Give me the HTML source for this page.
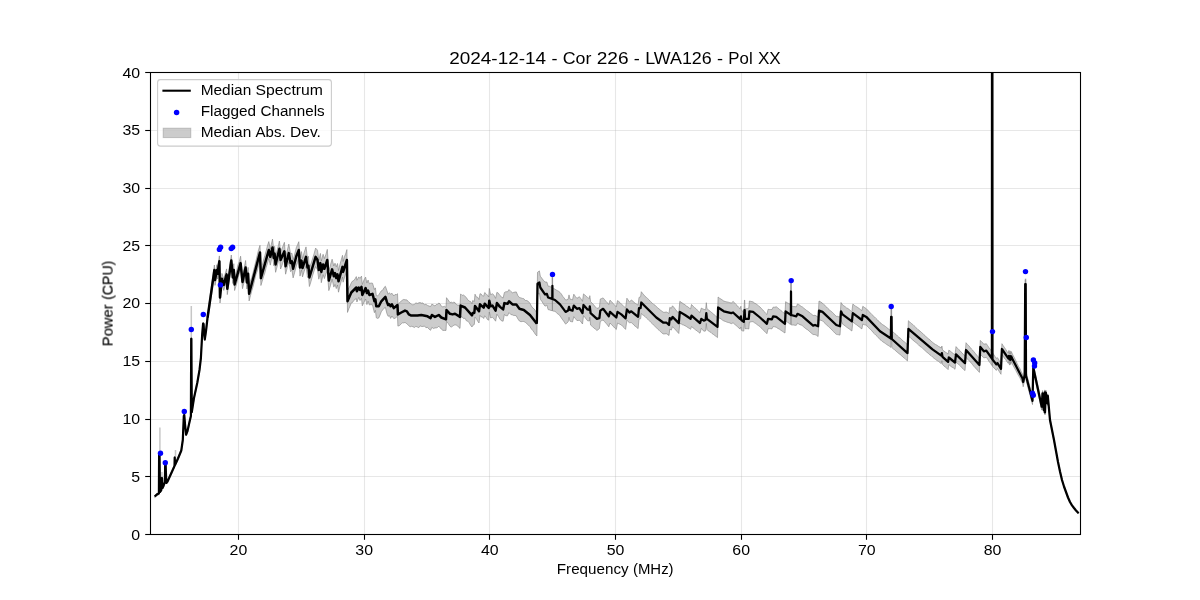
<!DOCTYPE html>
<html lang="en"><head><meta charset="utf-8"><title>Median Spectrum</title>
<style>html,body{margin:0;padding:0;background:#fff}body{width:1200px;height:600px;overflow:hidden;font-family:"Liberation Sans",sans-serif}</style></head>
<body>
<svg width="1200" height="600" viewBox="0 0 1200 600" style="display:block;font-family:'Liberation Sans',sans-serif">
<rect width="1200" height="600" fill="#ffffff"/>
<defs><clipPath id="ax"><rect x="150.5" y="72.5" width="930.0" height="462.0"/></clipPath></defs>
<g stroke="#b0b0b0" stroke-opacity="0.3" stroke-width="1.05">
<line x1="238.50" y1="72.5" x2="238.50" y2="534.5"/>
<line x1="364.50" y1="72.5" x2="364.50" y2="534.5"/>
<line x1="489.50" y1="72.5" x2="489.50" y2="534.5"/>
<line x1="615.50" y1="72.5" x2="615.50" y2="534.5"/>
<line x1="741.50" y1="72.5" x2="741.50" y2="534.5"/>
<line x1="866.50" y1="72.5" x2="866.50" y2="534.5"/>
<line x1="992.50" y1="72.5" x2="992.50" y2="534.5"/>
<line x1="150.5" y1="534.50" x2="1080.5" y2="534.50"/>
<line x1="150.5" y1="476.50" x2="1080.5" y2="476.50"/>
<line x1="150.5" y1="419.50" x2="1080.5" y2="419.50"/>
<line x1="150.5" y1="361.50" x2="1080.5" y2="361.50"/>
<line x1="150.5" y1="303.50" x2="1080.5" y2="303.50"/>
<line x1="150.5" y1="245.50" x2="1080.5" y2="245.50"/>
<line x1="150.5" y1="188.50" x2="1080.5" y2="188.50"/>
<line x1="150.5" y1="130.50" x2="1080.5" y2="130.50"/>
<line x1="150.5" y1="72.50" x2="1080.5" y2="72.50"/>
</g>
<g clip-path="url(#ax)">
<polygon points="154.7,495.4 156.0,494.2 157.3,493.2 158.9,492.4 159.1,452.4 159.5,452.5 159.9,490.9 161.3,488.9 161.7,476.9 162.0,476.8 162.5,486.9 163.5,484.8 164.9,480.8 165.2,461.9 165.6,461.9 166.3,481.9 167.5,480.4 168.8,477.5 170.0,474.7 171.2,472.0 172.5,469.3 174.5,464.7 174.7,456.2 175.0,463.8 176.5,460.8 178.0,457.3 179.7,453.2 181.3,449.2 182.8,438.8 183.8,414.7 184.3,413.7 185.0,422.7 186.1,433.3 187.5,429.7 189.5,420.6 190.9,414.6 191.2,337.5 191.4,337.4 191.8,410.6 192.9,403.6 194.0,396.6 195.7,388.9 197.3,381.2 198.4,374.7 199.5,368.5 200.9,356.5 202.2,332.5 203.1,322.1 203.6,322.6 204.1,331.5 204.8,337.9 206.0,328.9 207.5,315.1 209.4,301.3 210.7,291.5 212.0,281.6 213.2,273.5 214.4,265.0 215.0,275.1 216.9,264.7 217.5,268.9 219.4,255.9 220.0,291.8 221.9,273.4 223.8,279.0 225.0,274.2 226.6,268.9 227.3,282.9 228.6,274.1 230.0,263.6 231.3,255.0 232.8,271.7 233.8,263.7 234.6,278.4 235.8,273.7 236.9,269.7 238.1,264.4 239.4,261.3 240.6,256.2 242.5,275.5 244.1,268.3 245.6,260.5 246.9,275.9 248.1,267.4 249.1,286.7 250.5,280.7 251.8,277.3 253.2,272.1 254.6,266.3 255.9,261.1 257.3,255.1 258.6,249.6 260.0,245.3 260.9,270.5 262.2,265.7 263.5,260.0 264.9,255.5 266.2,250.7 267.5,245.5 268.8,241.6 270.3,249.1 271.4,244.1 272.5,239.1 273.8,250.0 274.6,246.3 275.6,256.3 276.9,251.1 278.1,246.7 279.4,241.0 280.6,252.0 281.9,248.8 283.1,245.8 284.4,242.3 285.6,257.9 287.2,251.0 288.8,244.1 290.6,254.0 291.9,253.1 293.1,260.0 294.7,254.2 296.3,247.7 297.6,244.6 298.8,241.7 300.0,258.1 301.5,251.6 302.5,258.8 304.2,252.4 306.0,246.9 307.5,258.4 308.4,256.2 309.4,268.1 310.9,264.0 312.5,259.0 314.1,253.7 315.6,248.1 317.5,250.2 318.8,260.3 320.4,253.4 321.3,261.1 323.1,254.3 324.4,258.6 325.9,254.4 327.3,249.4 328.8,271.1 330.5,264.8 332.1,259.2 333.8,266.0 335.0,263.2 336.3,266.9 337.5,263.5 338.5,270.5 339.8,265.0 341.2,260.0 342.5,255.3 343.1,261.5 344.4,256.7 345.6,254.0 346.9,249.6 347.5,290.7 348.8,287.9 350.0,286.0 351.3,282.8 352.6,281.0 353.8,280.5 355.1,278.8 356.3,276.6 356.9,280.3 358.8,276.9 360.0,278.4 361.5,276.1 362.3,284.5 364.0,279.9 365.6,277.1 366.9,283.1 368.1,280.0 369.4,283.8 370.9,283.0 372.5,283.2 374.4,289.5 375.4,287.9 376.3,295.5 377.6,295.9 378.8,294.7 380.1,292.7 381.3,290.8 382.7,290.2 384.0,287.6 385.4,286.3 386.9,290.5 388.1,294.3 389.4,292.7 390.6,294.3 391.9,293.2 393.8,296.0 395.0,294.5 396.3,294.7 397.5,293.7 397.9,303.7 399.6,302.8 401.3,300.9 402.5,300.1 403.8,299.4 405.0,299.8 406.9,299.9 408.8,302.2 410.1,302.9 411.3,304.2 412.9,304.9 414.4,304.3 415.9,302.9 417.5,303.4 418.8,302.8 420.0,302.5 421.3,303.1 422.9,302.9 424.4,304.8 425.9,304.3 427.5,305.4 429.1,306.1 430.6,306.5 431.9,304.1 433.4,305.0 435.0,306.0 436.3,304.5 437.5,304.4 438.8,303.0 440.1,303.9 441.3,306.2 442.9,306.9 444.4,306.3 446.0,307.4 446.5,297.7 448.2,300.0 450.0,302.7 451.2,302.1 452.5,302.7 453.8,302.2 455.0,302.6 456.2,304.4 457.5,305.0 458.8,305.1 460.0,306.4 460.6,293.9 462.1,295.4 463.5,295.0 465.0,296.3 466.4,297.6 467.8,299.9 469.2,301.0 470.6,301.6 472.0,303.8 472.7,300.5 474.3,301.6 475.0,294.2 476.3,296.9 477.7,297.3 479.0,299.6 480.0,293.7 481.2,294.1 482.5,295.9 483.7,296.2 484.7,292.5 486.0,293.7 487.4,295.1 488.7,297.0 489.3,288.4 490.6,294.7 492.5,293.8 494.1,295.3 495.6,298.4 496.9,292.3 498.4,293.2 500.0,295.6 501.6,297.0 503.1,298.1 504.4,292.5 505.9,291.7 507.5,291.8 509.0,289.6 510.8,291.4 512.5,292.8 513.8,292.3 515.0,292.1 516.3,291.9 517.8,295.5 519.4,297.5 520.9,297.9 522.3,298.4 523.8,298.7 525.3,300.5 526.9,300.5 528.5,301.6 530.0,303.4 531.4,306.1 532.8,308.0 534.1,308.9 535.5,310.8 536.9,313.3 537.5,272.3 539.4,270.9 540.3,276.2 541.9,278.3 543.4,280.3 545.0,282.0 546.9,282.1 548.1,286.2 549.5,286.3 550.9,287.0 552.3,287.1 552.4,275.2 552.4,274.8 552.5,287.5 553.8,288.5 555.0,289.2 556.2,290.0 557.5,290.7 558.8,291.4 560.0,292.4 561.4,294.1 562.8,296.4 564.2,298.0 565.6,300.0 566.9,299.8 568.1,299.3 569.0,294.9 570.0,299.1 571.2,299.4 572.5,299.9 573.8,294.2 575.3,296.4 576.9,298.3 578.1,297.6 579.4,296.7 581.0,298.9 582.5,301.3 583.5,293.9 584.8,294.9 586.2,296.3 587.5,297.4 589.4,298.7 589.8,295.7 590.6,301.7 592.2,303.2 593.8,305.0 595.3,306.8 596.9,308.4 598.1,308.1 599.4,307.4 600.3,299.0 601.7,298.5 603.1,297.9 604.5,299.5 606.0,301.4 607.4,302.8 608.8,304.6 610.0,300.2 611.6,301.7 613.1,303.4 614.7,305.2 616.3,306.9 617.5,300.6 618.8,301.5 620.0,302.6 621.3,303.9 622.7,305.3 624.2,306.8 625.6,308.2 626.9,298.2 628.1,299.9 629.4,301.9 631.3,300.1 632.7,301.0 634.0,302.3 635.4,303.4 636.7,304.2 638.1,305.2 639.0,297.4 640.6,296.8 641.3,291.7 642.5,293.3 643.8,294.8 645.0,296.3 646.4,297.4 647.8,298.7 649.2,300.0 650.6,301.7 652.1,302.9 653.5,304.3 654.9,305.1 656.3,306.6 657.7,307.8 659.0,308.9 660.4,310.1 661.7,311.0 663.1,312.2 664.7,312.3 666.3,312.0 667.6,312.6 669.0,313.5 669.8,307.4 671.3,308.3 672.5,305.8 674.1,307.6 675.6,309.6 677.2,311.5 678.8,313.2 679.8,301.3 681.1,302.3 682.4,303.1 683.7,304.0 685.0,304.8 686.4,306.0 687.8,306.8 689.2,308.0 690.6,308.9 691.5,304.5 692.9,306.0 694.3,307.4 695.8,308.5 697.2,310.0 698.6,311.4 700.0,312.6 701.3,308.1 702.5,308.7 703.8,309.3 705.6,309.9 706.3,302.7 706.9,308.5 708.2,309.7 709.5,310.7 710.9,311.9 712.2,313.0 713.5,313.9 714.9,315.3 716.2,316.6 717.5,317.5 718.1,297.0 719.5,298.2 721.0,299.1 722.4,300.0 723.8,301.1 725.3,301.5 726.8,301.9 728.3,302.2 729.8,302.7 731.3,303.0 733.1,301.4 734.5,302.7 735.9,304.4 737.2,305.6 738.6,307.3 740.0,308.7 740.9,306.2 741.3,309.7 742.5,311.2 743.8,312.7 744.5,300.1 744.7,300.0 745.0,309.2 746.3,308.7 747.5,308.5 748.8,308.1 749.4,301.0 750.6,301.3 751.9,301.6 753.1,301.9 754.5,303.1 755.9,303.8 757.2,304.7 758.6,305.9 760.0,307.0 761.4,308.6 762.8,309.9 764.1,311.4 765.5,313.2 766.9,314.5 768.1,309.3 769.4,309.5 770.6,309.5 771.9,309.6 773.1,307.2 774.7,307.2 776.3,306.8 777.8,307.9 779.2,309.2 780.6,310.2 782.1,311.4 783.5,312.8 785.0,313.8 785.6,301.7 787.1,302.7 788.5,303.4 790.0,304.0 790.9,305.5 791.0,282.3 791.0,281.8 791.1,306.2 792.4,306.3 793.7,306.6 795.0,306.6 796.3,306.9 797.5,303.9 798.8,304.5 800.0,305.5 801.2,306.4 802.5,307.0 803.8,308.2 805.1,309.2 806.5,310.4 807.8,311.2 809.1,312.2 810.5,313.4 811.8,314.3 813.1,315.5 815.0,315.3 816.5,316.1 818.1,317.2 819.0,301.0 820.8,302.0 822.5,303.2 823.9,304.6 825.3,305.8 826.6,307.0 828.0,308.6 829.4,309.9 830.8,311.0 832.2,312.2 833.5,313.4 834.9,315.1 836.3,316.3 837.5,316.3 838.8,316.8 840.0,316.9 841.0,302.5 842.5,304.8 843.8,305.8 845.2,306.7 846.5,307.9 847.9,308.5 849.2,309.5 850.6,310.7 851.9,311.7 852.8,304.2 854.1,304.9 855.4,306.2 856.7,306.8 858.0,307.7 859.3,308.6 860.6,309.7 861.9,310.6 862.8,306.3 864.5,307.5 866.3,308.7 867.7,310.1 869.0,311.5 870.4,313.0 871.8,314.5 873.1,315.7 874.5,316.9 875.9,318.4 877.3,319.7 878.6,321.0 880.0,322.6 881.4,323.6 882.7,324.7 884.1,325.5 885.5,326.5 886.8,327.6 888.2,328.7 889.5,329.7 890.9,330.6 891.1,308.6 891.6,308.0 891.8,330.8 893.2,332.1 894.7,333.4 896.1,334.5 897.5,336.0 898.9,337.3 900.4,338.2 901.8,339.8 903.2,341.0 904.6,342.0 906.1,343.4 907.5,344.7 908.4,320.7 909.8,322.0 911.2,323.4 912.7,324.4 914.1,325.8 915.5,327.2 916.9,328.4 918.3,329.8 919.7,330.8 921.2,332.2 922.6,333.3 924.0,334.8 925.4,336.1 926.8,337.3 928.2,338.6 929.7,339.6 931.1,341.2 932.5,342.3 934.0,343.5 935.4,344.4 936.9,345.2 938.4,346.3 939.8,347.0 941.3,348.1 941.9,346.0 942.5,349.8 943.9,351.0 945.3,352.1 946.7,352.9 948.1,354.1 948.8,350.2 950.3,351.1 951.9,352.5 953.5,353.7 955.0,354.8 956.0,346.6 957.5,348.3 959.0,349.8 960.5,351.2 962.0,353.1 963.5,354.4 965.0,356.2 966.0,342.7 967.3,344.4 968.7,345.6 970.0,347.2 971.4,349.0 972.7,350.2 974.0,351.8 975.4,353.5 976.7,355.1 978.1,356.7 979.4,358.1 980.3,340.4 982.0,342.3 983.8,344.0 985.0,344.1 986.3,343.7 987.7,345.7 989.1,347.9 990.5,349.5 991.9,351.7 992.0,52.7 992.4,53.4 992.5,352.7 993.7,354.5 995.0,356.5 996.3,358.3 997.5,357.7 999.2,360.5 1001.0,363.4 1001.9,343.7 1003.2,345.7 1004.5,347.6 1005.7,349.4 1007.0,351.5 1008.3,353.2 1008.9,350.4 1009.5,354.4 1010.1,350.9 1010.7,354.4 1011.3,351.5 1011.9,353.0 1013.2,355.6 1014.5,358.1 1015.9,360.8 1017.2,363.7 1018.5,366.4 1019.9,368.6 1021.2,371.6 1022.5,374.0 1023.2,377.8 1024.7,370.4 1025.2,279.5 1025.7,279.6 1026.0,371.1 1027.3,376.5 1028.6,381.5 1029.9,386.7 1031.2,391.6 1032.5,397.0 1033.3,363.7 1034.7,370.4 1036.1,377.0 1037.5,383.7 1038.9,390.0 1040.3,397.2 1041.7,403.5 1042.5,390.6 1043.7,407.2 1044.7,389.9 1045.0,410.0 1045.8,390.0 1047.5,401.3 1047.8,393.9 1048.9,406.2 1050.0,418.5 1052.0,428.8 1054.0,438.9 1056.0,450.0 1058.0,461.3 1060.0,470.9 1062.0,479.4 1064.0,486.0 1066.0,491.5 1068.0,497.0 1070.0,501.6 1072.0,504.9 1074.0,507.6 1076.0,510.1 1077.3,511.5 1078.6,513.0 1078.6,513.6 1077.3,512.4 1076.0,510.9 1074.0,508.4 1072.0,505.7 1070.0,502.4 1068.0,498.0 1066.0,492.5 1064.0,487.0 1062.0,480.6 1060.0,472.1 1058.0,462.7 1056.0,451.9 1054.0,441.2 1052.0,431.3 1050.0,421.5 1048.9,409.7 1047.8,397.9 1047.5,405.4 1045.8,394.7 1045.0,415.0 1044.7,395.1 1043.7,412.6 1042.5,396.3 1041.7,410.1 1040.3,403.8 1038.9,397.1 1037.5,390.6 1036.1,384.5 1034.7,377.8 1033.3,371.4 1032.5,404.6 1031.2,399.9 1029.9,394.8 1028.6,390.0 1027.3,385.0 1026.0,380.2 1025.7,288.2 1025.2,288.1 1024.7,379.6 1023.2,386.8 1022.5,383.0 1021.2,380.6 1019.9,377.8 1018.5,375.6 1017.2,373.2 1015.9,370.6 1014.5,368.1 1013.2,365.7 1011.9,363.1 1011.3,361.5 1010.7,364.6 1010.1,361.1 1009.5,365.1 1008.9,361.4 1008.3,363.4 1007.0,361.8 1005.7,359.6 1004.5,358.4 1003.2,356.2 1001.9,354.6 1001.0,374.3 999.2,371.5 997.5,368.5 996.3,370.4 995.0,368.9 993.7,367.7 992.5,366.6 992.4,66.7 992.0,66.7 991.9,365.5 990.5,363.3 989.1,361.6 987.7,359.2 986.3,357.3 985.0,357.7 983.8,357.8 982.0,356.1 980.3,354.2 979.4,372.4 978.1,370.7 976.7,369.5 975.4,367.9 974.0,366.5 972.7,364.8 971.4,363.2 970.0,361.7 968.7,360.3 967.3,358.9 966.0,357.2 965.0,370.6 963.5,369.3 962.0,367.9 960.5,366.1 959.0,364.7 957.5,363.6 956.0,362.0 955.0,369.3 953.5,367.9 951.9,367.1 950.3,365.9 948.8,364.5 948.1,369.6 946.7,368.1 945.3,367.1 943.9,365.9 942.5,364.4 941.9,360.6 941.3,363.6 939.8,362.6 938.4,361.3 936.9,360.5 935.4,359.3 934.0,358.3 932.5,357.0 931.1,355.6 929.7,354.8 928.2,353.2 926.8,352.2 925.4,350.9 924.0,349.6 922.6,348.3 921.2,347.1 919.7,346.2 918.3,344.6 916.9,343.3 915.5,342.3 914.1,341.1 912.7,339.9 911.2,338.6 909.8,337.2 908.4,336.1 907.5,360.9 906.1,359.8 904.6,358.3 903.2,357.3 901.8,355.9 900.4,354.7 898.9,353.6 897.5,352.4 896.1,351.2 894.7,349.8 893.2,348.8 891.8,347.5 891.6,325.0 891.1,325.5 890.9,347.4 889.5,346.3 888.2,345.4 886.8,344.6 885.5,343.6 884.1,342.6 882.7,341.8 881.4,340.5 880.0,339.6 878.6,337.9 877.3,336.5 875.9,335.2 874.5,333.8 873.1,332.5 871.8,330.7 870.4,329.4 869.0,328.1 867.7,326.8 866.3,325.1 864.5,324.8 862.8,324.0 861.9,328.9 860.6,328.0 859.3,326.9 858.0,326.0 856.7,324.9 855.4,324.1 854.1,323.0 852.8,321.9 851.9,331.0 850.6,330.1 849.2,328.9 847.9,328.0 846.5,327.1 845.2,326.0 843.8,324.9 842.5,324.1 841.0,319.9 840.0,335.1 838.8,334.8 837.5,334.6 836.3,334.3 834.9,333.1 833.5,331.6 832.2,330.2 830.8,328.7 829.4,327.5 828.0,326.1 826.6,324.9 825.3,323.7 823.9,322.3 822.5,320.8 820.8,320.3 819.0,319.9 818.1,336.5 816.5,335.3 815.0,334.6 813.1,334.5 811.8,333.5 810.5,332.4 809.1,331.1 807.8,329.9 806.5,329.2 805.1,328.1 803.8,327.0 802.5,325.8 801.2,325.0 800.0,324.7 798.8,324.0 797.5,323.2 796.3,325.3 795.0,325.3 793.7,325.0 792.4,325.0 791.1,324.9 791.0,301.9 791.0,301.0 790.9,324.3 790.0,324.1 788.5,323.1 787.1,321.7 785.6,320.5 785.0,333.0 783.5,332.1 782.1,331.0 780.6,330.1 779.2,329.0 777.8,328.4 776.3,327.3 774.7,326.8 773.1,326.6 771.9,328.9 770.6,328.7 769.4,328.7 768.1,328.7 766.9,333.7 765.5,332.3 764.1,330.9 762.8,329.6 761.4,328.2 760.0,326.6 758.6,325.7 757.2,324.7 755.9,323.6 754.5,322.8 753.1,321.7 751.9,321.6 750.6,322.0 749.4,322.1 748.8,329.0 747.5,328.7 746.3,328.7 745.0,328.7 744.7,320.4 744.5,319.8 743.8,331.1 742.5,330.9 741.3,330.2 740.9,327.0 740.0,328.9 738.6,327.9 737.2,326.3 735.9,325.3 734.5,324.2 733.1,322.8 731.3,323.7 729.8,322.9 728.3,322.5 726.8,322.1 725.3,321.4 723.8,320.9 722.4,320.1 721.0,318.8 719.5,318.2 718.1,317.1 717.5,337.6 716.2,336.5 714.9,335.6 713.5,334.5 712.2,333.7 710.9,332.4 709.5,331.6 708.2,330.8 706.9,329.5 706.3,323.4 705.6,331.0 703.8,331.2 702.5,329.7 701.3,328.4 700.0,333.2 698.6,332.3 697.2,330.9 695.8,330.1 694.3,328.8 692.9,327.7 691.5,326.6 690.6,329.3 689.2,328.3 687.8,327.5 686.4,326.5 685.0,325.7 683.7,325.1 682.4,324.7 681.1,323.8 679.8,323.3 678.8,333.5 677.2,331.7 675.6,329.9 674.1,328.3 672.5,326.7 671.3,330.1 669.8,329.0 669.0,335.5 667.6,334.5 666.3,333.7 664.7,333.9 663.1,333.9 661.7,332.7 660.4,331.6 659.0,330.2 657.7,328.9 656.3,327.7 654.9,326.3 653.5,325.1 652.1,323.4 650.6,322.1 649.2,320.6 647.8,319.2 646.4,318.0 645.0,316.5 643.8,315.6 642.5,314.7 641.3,313.5 640.6,318.8 639.0,318.8 638.1,328.6 636.7,327.4 635.4,326.4 634.0,325.2 632.7,323.7 631.3,322.6 629.4,322.7 628.1,321.6 626.9,320.1 625.6,329.4 624.2,327.8 622.7,326.4 621.3,324.9 620.0,324.3 618.8,323.7 617.5,323.1 616.3,329.5 614.7,328.0 613.1,326.2 611.6,324.7 610.0,323.0 608.8,326.8 607.4,324.9 606.0,323.3 604.5,321.6 603.1,320.0 601.7,320.6 600.3,321.5 599.4,328.6 598.1,329.7 596.9,330.5 595.3,329.0 593.8,328.0 592.2,326.3 590.6,325.1 589.8,317.2 589.4,321.0 587.5,320.7 586.2,319.1 584.8,317.2 583.5,315.6 582.5,324.0 581.0,321.9 579.4,320.2 578.1,320.5 576.9,320.5 575.3,318.5 573.8,316.6 572.5,322.0 571.2,321.6 570.0,321.2 569.0,317.3 568.1,321.9 566.9,323.1 565.6,324.1 564.2,321.9 562.8,320.0 561.4,318.0 560.0,315.9 558.8,314.5 557.5,313.8 556.2,312.3 555.0,311.3 553.8,311.2 552.5,310.8 552.4,296.7 552.4,296.3 552.3,310.7 550.9,310.4 549.5,309.9 548.1,309.6 546.9,305.1 545.0,306.2 543.4,303.9 541.9,301.4 540.3,299.3 539.4,293.1 537.5,294.7 536.9,335.9 535.5,334.6 534.1,332.3 532.8,330.5 531.4,329.0 530.0,326.7 528.5,325.2 526.9,323.7 525.3,322.3 523.8,321.5 522.3,321.5 520.9,321.7 519.4,321.0 517.8,318.8 516.3,315.9 515.0,315.4 513.8,315.5 512.5,314.9 510.8,314.5 509.0,312.6 507.5,315.8 505.9,315.7 504.4,314.5 503.1,321.2 501.6,320.9 500.0,319.2 498.4,316.4 496.9,314.2 495.6,321.2 494.1,319.1 492.5,317.3 490.6,317.9 489.3,312.0 488.7,320.2 487.4,319.5 486.0,317.1 484.7,315.8 483.7,318.5 482.5,317.0 481.2,316.9 480.0,315.3 479.0,323.0 477.7,321.2 476.3,318.6 475.0,317.2 474.3,324.5 472.7,325.5 472.0,327.0 470.6,325.3 469.2,322.8 467.8,321.2 466.4,320.8 465.0,318.2 463.5,318.6 462.1,316.9 460.6,317.0 460.0,328.4 458.8,327.4 457.5,325.8 456.2,325.1 455.0,324.8 453.8,325.3 452.5,326.3 451.2,327.1 450.0,326.3 448.2,323.5 446.5,321.3 446.0,330.4 444.4,330.4 442.9,330.4 441.3,329.1 440.1,327.7 438.8,326.1 437.5,327.5 436.3,327.9 435.0,327.9 433.4,328.5 431.9,327.3 430.6,330.3 429.1,329.2 427.5,327.4 425.9,327.7 424.4,326.0 422.9,326.5 421.3,326.4 420.0,325.8 418.8,327.7 417.5,327.1 415.9,326.3 414.4,327.5 412.9,326.7 411.3,326.3 410.1,326.8 408.8,325.7 406.9,323.8 405.0,322.4 403.8,322.9 402.5,322.8 401.3,323.7 399.6,325.5 397.9,326.1 397.5,316.2 396.3,317.3 395.0,318.3 393.8,318.6 391.9,316.0 390.6,318.4 389.4,315.6 388.1,316.3 386.9,313.5 385.4,307.4 384.0,308.2 382.7,309.9 381.3,311.7 380.1,314.9 378.8,317.9 377.6,318.4 376.3,317.8 375.4,310.3 374.4,312.7 372.5,304.9 370.9,304.6 369.4,305.0 368.1,301.1 366.9,304.6 365.6,299.0 364.0,302.1 362.3,305.8 361.5,298.3 360.0,300.5 358.8,297.3 356.9,302.0 356.3,298.5 355.1,299.4 353.8,300.4 352.6,302.4 351.3,302.9 350.0,306.2 348.8,308.8 347.5,312.4 346.9,271.4 345.6,274.1 344.4,277.8 343.1,282.2 342.5,277.0 341.2,281.4 339.8,286.6 338.5,292.2 337.5,285.0 336.3,288.6 335.0,284.4 333.8,287.1 332.1,279.0 330.5,285.4 328.8,290.6 327.3,270.4 325.9,274.1 324.4,278.6 323.1,274.6 321.3,282.7 320.4,272.9 318.8,279.2 317.5,269.8 315.6,266.5 314.1,270.9 312.5,275.9 310.9,281.8 309.4,286.5 308.4,275.5 307.5,277.5 306.0,265.8 304.2,271.3 302.5,276.9 301.5,269.8 300.0,276.1 298.8,258.7 297.6,262.5 296.3,265.9 294.7,272.3 293.1,277.9 291.9,269.6 290.6,271.7 288.8,261.6 287.2,267.8 285.6,274.2 284.4,259.8 283.1,262.1 281.9,265.6 280.6,269.0 279.4,257.1 278.1,262.4 276.9,267.4 275.6,272.3 274.6,262.0 273.8,265.8 272.5,254.9 271.4,259.8 270.3,265.1 268.8,258.3 267.5,263.3 266.2,267.2 264.9,272.8 263.5,276.7 262.2,281.3 260.9,285.5 260.0,260.1 258.6,265.3 257.3,270.8 255.9,274.6 254.6,280.2 253.2,286.0 251.8,290.7 250.5,295.6 249.1,300.9 248.1,280.2 246.9,289.0 245.6,274.7 244.1,282.0 242.5,288.7 240.6,269.5 239.4,273.2 238.1,277.6 236.9,282.9 235.8,286.6 234.6,290.5 233.8,275.6 232.8,283.5 231.3,266.9 230.0,275.6 228.6,285.3 227.3,294.6 226.6,280.3 225.0,286.0 223.8,290.4 221.9,283.9 220.0,303.0 219.4,266.8 217.5,279.0 216.9,275.5 215.0,285.4 214.4,274.8 213.2,282.7 212.0,291.8 210.7,300.1 209.4,308.8 207.5,320.7 206.0,333.0 204.8,340.9 204.1,334.5 203.6,325.4 203.1,325.0 202.2,335.5 200.9,359.4 199.5,371.5 198.4,377.9 197.3,384.2 195.7,391.8 194.0,399.4 192.9,406.4 191.8,413.3 191.4,340.2 191.2,340.1 190.9,417.3 189.5,423.5 187.5,432.4 186.1,436.0 185.0,425.3 184.3,416.3 183.8,417.2 182.8,441.3 181.3,451.9 179.7,455.6 178.0,459.8 176.5,463.2 175.0,466.2 174.7,458.7 174.5,467.2 172.5,471.6 171.2,474.7 170.0,477.2 168.8,480.2 167.5,482.8 166.3,484.1 165.6,464.1 165.2,464.2 164.9,483.1 163.5,487.1 162.5,489.2 162.0,479.2 161.7,479.1 161.3,491.1 159.9,493.1 159.5,454.5 159.1,454.6 158.9,494.7 157.3,495.3 156.0,496.4 154.7,497.6" fill="#808080" fill-opacity="0.4" stroke="#808080" stroke-opacity="0.6" stroke-width="1.0" stroke-linejoin="round"/>
<g stroke="#808080" stroke-opacity="0.45" stroke-width="1.5">
<line x1="159.9" y1="427.5" x2="159.9" y2="492.0"/>
<line x1="161.9" y1="472.0" x2="161.9" y2="478.0"/>
<line x1="175.5" y1="450.0" x2="175.5" y2="463.9"/>
<line x1="191.3" y1="306.0" x2="191.3" y2="338.8"/>
<line x1="552.4" y1="274.4" x2="552.4" y2="285.8"/>
<line x1="791.1" y1="280.6" x2="791.1" y2="315.0"/>
<line x1="891.3" y1="306.5" x2="891.3" y2="316.9"/>
<line x1="1025.6" y1="278.5" x2="1025.6" y2="284.0"/>
</g>
<polyline points="154.7,496.5 156.0,495.3 157.3,494.2 158.9,493.5 159.1,453.5 159.5,453.5 159.9,492.0 161.3,490.0 161.7,478.0 162.0,478.0 162.5,488.0 163.5,486.0 164.9,482.0 165.2,463.0 165.6,463.0 166.3,483.0 167.5,481.5 170.0,476.0 172.5,470.5 174.5,466.0 174.7,457.5 175.0,465.0 178.0,458.5 181.3,450.5 182.8,440.0 183.8,416.0 184.3,415.0 185.0,424.0 186.1,434.7 187.5,431.0 189.5,422.0 190.9,416.0 191.2,338.8 191.4,338.8 191.8,412.0 194.0,398.0 197.3,382.7 199.5,370.0 200.9,358.0 202.2,334.0 203.1,323.5 203.6,324.0 204.1,333.0 204.8,339.3 206.0,331.0 207.5,318.0" fill="none" stroke="#000" stroke-linejoin="round" stroke-linecap="butt" stroke-width="2.2"/>
<polyline points="207.5,318.0 209.4,305.0 212.0,287.0 214.4,270.0 215.0,280.0 216.9,270.0 217.5,273.8 219.4,261.3 220.0,297.5 221.9,278.8 223.8,285.0 225.0,280.0 226.6,274.4 227.3,288.8 231.3,260.6 232.8,277.5 233.8,270.0 234.6,284.4 236.9,276.3 240.6,263.1 242.5,281.9 245.6,267.5 246.9,282.5 248.1,273.8 249.1,293.8 260.0,252.5 260.9,278.1 268.8,250.0 270.3,256.9 272.5,247.5 273.8,258.1 274.6,253.8 275.6,264.4 279.4,248.8 280.6,260.0 284.4,251.3 285.6,266.3 288.8,253.1 290.6,263.1 291.9,261.3 293.1,268.8 296.3,256.3 298.8,250.0 300.0,267.5 301.5,260.6 302.5,268.1 306.0,256.9 307.5,267.5 308.4,265.6 309.4,277.5 315.6,256.9 317.5,260.0 318.8,270.0 320.4,263.1 321.3,271.9 323.1,264.4 324.4,268.8 327.3,260.0 328.8,280.6 332.1,269.4 333.8,276.3 335.0,273.1 336.3,278.1 337.5,274.4 338.5,281.3 342.5,266.9 343.1,271.9 346.9,260.0 347.5,301.3 351.3,292.5 356.3,287.5 356.9,291.3 358.8,287.5 360.0,290.0 361.5,286.9 362.3,295.0 365.6,288.1 366.9,293.1 368.1,290.6 369.4,295.0 372.5,293.8 374.4,301.3 375.4,299.4 376.3,306.3 378.8,306.3 381.3,301.3 385.4,296.9 386.9,301.9 388.1,305.0 389.4,304.4 390.6,306.3 391.9,304.4 393.8,308.1 397.5,305.0 397.9,314.4 401.3,312.5 405.0,310.6 406.9,311.3 408.8,314.4 411.3,315.6 417.5,315.6 421.3,315.0 427.5,316.3 430.6,318.1 431.9,315.0 435.0,316.9 438.8,315.0 441.3,317.5 446.0,319.4 446.5,310.0 450.0,313.8 452.5,314.4 455.0,313.8 460.0,316.9 460.6,305.6 465.0,307.5 472.0,315.3 472.7,313.0 474.3,313.0 475.0,306.0 479.0,311.3 480.0,304.3 483.7,307.7 484.7,303.7 488.7,308.0 489.3,300.7 490.6,306.3 492.5,305.6 495.6,310.6 496.9,303.1 500.0,306.9 503.1,309.4 504.4,303.1 507.5,303.8 509.0,301.3 512.5,304.4 516.3,304.4 519.4,308.8 523.8,310.0 530.0,315.0 536.9,323.8" fill="none" stroke="#000" stroke-linejoin="round" stroke-linecap="butt" stroke-width="2.5"/>
<polyline points="536.9,323.8 537.5,283.8 539.4,282.5 540.3,287.5 545.0,294.4 546.9,293.8 548.1,297.5 552.3,298.9 552.4,285.8 552.4,285.8 552.5,299.0 555.0,300.0 560.0,304.4 565.6,311.9 568.1,310.6 569.0,306.9 570.0,310.0 572.5,310.6 573.8,305.6 576.9,308.8 579.4,308.1 582.5,313.1 583.5,305.0 587.5,309.4 589.4,310.0 589.8,306.3 590.6,313.1 596.9,318.8 599.4,318.1 600.3,310.6 603.1,308.8 608.8,316.3 610.0,311.9 616.3,317.5 617.5,311.9 621.3,314.4 625.6,318.4 626.9,309.4 629.4,312.5 631.3,311.3 638.1,316.9 639.0,308.1 640.6,308.1 641.3,302.5 645.0,306.3 656.3,317.5 663.1,322.5 666.3,322.5 669.0,325.0 669.8,318.1 671.3,319.4 672.5,316.9 678.8,323.1 679.8,311.9 685.0,315.0 690.6,318.8 691.5,315.6 700.0,323.1 701.3,318.8 703.8,320.6 705.6,320.0 706.3,313.1 706.9,318.8 717.5,326.9 718.1,307.5 723.8,311.3 731.3,313.1 733.1,312.5 740.0,318.8 740.9,316.3 741.3,320.0 743.8,321.9 744.5,310.0 744.7,310.0 745.0,318.8 748.8,318.8 749.4,311.3 753.1,311.9 760.0,317.5 766.9,323.8 768.1,318.8 771.9,319.4 773.1,316.3 776.3,316.9 785.0,323.8 785.6,311.3 790.0,314.4 790.9,315.0 791.0,291.5 791.0,291.5 791.1,315.0 796.3,316.3 797.5,313.8 802.5,316.3 813.1,325.6 815.0,325.0 818.1,326.3 819.0,310.6 822.5,311.9 836.3,325.0 840.0,326.3 841.0,311.3 842.5,314.4 851.9,321.3 852.8,313.1 861.9,320.0 862.8,315.0 866.3,316.9 880.0,331.3 890.9,338.5 891.1,316.9 891.6,316.9 891.8,339.0 907.5,353.1 908.4,328.8 932.5,349.4 941.3,355.6 941.9,353.1 942.5,356.9 948.1,361.9 948.8,357.5 955.0,362.5 956.0,354.4 965.0,363.1 966.0,350.0 979.4,365.0 980.3,346.9 983.8,351.3 986.3,350.6 991.9,358.5 992.0,60.0 992.4,60.0 992.5,359.5 996.3,364.4 997.5,363.1 1001.0,368.9 1001.9,349.0 1008.3,358.3 1008.9,356.0 1009.5,359.6 1010.1,356.2 1010.7,359.8 1011.3,356.3 1011.9,358.0 1022.5,378.5 1023.2,382.0 1024.7,375.0 1025.2,284.0 1025.7,284.0 1026.0,375.8 1032.5,400.8 1033.3,367.5 1041.7,406.7 1042.5,393.3 1043.7,410.0 1044.7,392.5 1045.0,412.5 1045.8,392.5 1047.5,403.3 1047.8,395.8 1050.0,420.0 1052.0,430.0 1054.0,440.0 1056.0,451.0 1058.0,462.0 1060.0,471.5 1062.0,480.0 1064.0,486.5 1066.0,492.0 1068.0,497.5 1070.0,502.0 1072.0,505.3 1074.0,508.0 1076.0,510.5 1078.6,513.3" fill="none" stroke="#000" stroke-linejoin="round" stroke-linecap="butt" stroke-width="2.25"/>
<g fill="#0000ff">
<circle cx="160.5" cy="453.3" r="2.7"/>
<circle cx="165.3" cy="462.7" r="2.7"/>
<circle cx="184.3" cy="411.5" r="2.7"/>
<circle cx="191.3" cy="329.5" r="2.7"/>
<circle cx="203.3" cy="314.5" r="2.7"/>
<circle cx="219.4" cy="249.4" r="2.7"/>
<circle cx="220.6" cy="247.2" r="2.7"/>
<circle cx="220.4" cy="284.9" r="2.7"/>
<circle cx="231.2" cy="248.6" r="2.7"/>
<circle cx="232.6" cy="247.3" r="2.7"/>
<circle cx="552.5" cy="274.4" r="2.7"/>
<circle cx="791.2" cy="280.6" r="2.7"/>
<circle cx="891.2" cy="306.5" r="2.7"/>
<circle cx="992.5" cy="331.6" r="2.7"/>
<circle cx="1025.5" cy="271.6" r="2.7"/>
<circle cx="1026.3" cy="337.5" r="2.7"/>
<circle cx="1033.4" cy="360.0" r="2.7"/>
<circle cx="1034.7" cy="363.0" r="2.7"/>
<circle cx="1034.5" cy="366.1" r="2.7"/>
<circle cx="1032.5" cy="393.3" r="2.7"/>
<circle cx="1033.3" cy="395.3" r="2.7"/>
</g>
</g>
<rect x="150.5" y="72.5" width="930.0" height="462.0" fill="none" stroke="#000" stroke-width="1.1"/>
<g stroke="#000" stroke-width="1.1">
<line x1="238.50" y1="534.5" x2="238.50" y2="539.8"/>
<line x1="364.50" y1="534.5" x2="364.50" y2="539.8"/>
<line x1="489.50" y1="534.5" x2="489.50" y2="539.8"/>
<line x1="615.50" y1="534.5" x2="615.50" y2="539.8"/>
<line x1="741.50" y1="534.5" x2="741.50" y2="539.8"/>
<line x1="866.50" y1="534.5" x2="866.50" y2="539.8"/>
<line x1="992.50" y1="534.5" x2="992.50" y2="539.8"/>
<line x1="145.2" y1="534.50" x2="150.5" y2="534.50"/>
<line x1="145.2" y1="476.50" x2="150.5" y2="476.50"/>
<line x1="145.2" y1="419.50" x2="150.5" y2="419.50"/>
<line x1="145.2" y1="361.50" x2="150.5" y2="361.50"/>
<line x1="145.2" y1="303.50" x2="150.5" y2="303.50"/>
<line x1="145.2" y1="245.50" x2="150.5" y2="245.50"/>
<line x1="145.2" y1="188.50" x2="150.5" y2="188.50"/>
<line x1="145.2" y1="130.50" x2="150.5" y2="130.50"/>
<line x1="145.2" y1="72.50" x2="150.5" y2="72.50"/>
</g>
<g style="filter:grayscale(1)">
<text x="229.64" y="555.30" font-size="13.89" textLength="17.68" lengthAdjust="spacingAndGlyphs" fill="#000">20</text>
<text x="355.31" y="555.30" font-size="13.89" textLength="17.68" lengthAdjust="spacingAndGlyphs" fill="#000">30</text>
<text x="480.99" y="555.30" font-size="13.89" textLength="17.68" lengthAdjust="spacingAndGlyphs" fill="#000">40</text>
<text x="606.66" y="555.30" font-size="13.89" textLength="17.68" lengthAdjust="spacingAndGlyphs" fill="#000">50</text>
<text x="732.34" y="555.30" font-size="13.89" textLength="17.68" lengthAdjust="spacingAndGlyphs" fill="#000">60</text>
<text x="858.01" y="555.30" font-size="13.89" textLength="17.68" lengthAdjust="spacingAndGlyphs" fill="#000">70</text>
<text x="983.69" y="555.30" font-size="13.89" textLength="17.68" lengthAdjust="spacingAndGlyphs" fill="#000">80</text>
<text x="131.26" y="540.10" font-size="13.89" textLength="8.84" lengthAdjust="spacingAndGlyphs" fill="#000">0</text>
<text x="131.26" y="482.10" font-size="13.89" textLength="8.84" lengthAdjust="spacingAndGlyphs" fill="#000">5</text>
<text x="122.42" y="424.10" font-size="13.89" textLength="17.68" lengthAdjust="spacingAndGlyphs" fill="#000">10</text>
<text x="122.42" y="366.10" font-size="13.89" textLength="17.68" lengthAdjust="spacingAndGlyphs" fill="#000">15</text>
<text x="122.42" y="308.10" font-size="13.89" textLength="17.68" lengthAdjust="spacingAndGlyphs" fill="#000">20</text>
<text x="122.42" y="251.10" font-size="13.89" textLength="17.68" lengthAdjust="spacingAndGlyphs" fill="#000">25</text>
<text x="122.42" y="193.10" font-size="13.89" textLength="17.68" lengthAdjust="spacingAndGlyphs" fill="#000">30</text>
<text x="122.42" y="135.10" font-size="13.89" textLength="17.68" lengthAdjust="spacingAndGlyphs" fill="#000">35</text>
<text x="122.42" y="78.10" font-size="13.89" textLength="17.68" lengthAdjust="spacingAndGlyphs" fill="#000">40</text>
<text x="556.83" y="573.90" font-size="13.89" textLength="71.76" lengthAdjust="spacingAndGlyphs" fill="#000">Frequency</text>
<text x="633.01" y="573.90" font-size="13.89" textLength="40.56" lengthAdjust="spacingAndGlyphs" fill="#000">(MHz)</text>
<g transform="translate(112.6,303.5) rotate(-90)">
<text x="-42.75" y="0.00" font-size="13.89" textLength="42.00" lengthAdjust="spacingAndGlyphs" fill="#000" stroke="#000" stroke-width="0.12">Power</text>
<text x="3.67" y="0.00" font-size="13.89" textLength="39.08" lengthAdjust="spacingAndGlyphs" fill="#000" stroke="#000" stroke-width="0.12">(CPU)</text>
</g>
<text x="449.24" y="63.80" font-size="16.67" textLength="96.88" lengthAdjust="spacingAndGlyphs" fill="#000">2024-12-14</text>
<text x="551.42" y="63.80" font-size="16.67" textLength="6.02" lengthAdjust="spacingAndGlyphs" fill="#000">-</text>
<text x="562.74" y="63.80" font-size="16.67" textLength="28.69" lengthAdjust="spacingAndGlyphs" fill="#000">Cor</text>
<text x="596.73" y="63.80" font-size="16.67" textLength="31.82" lengthAdjust="spacingAndGlyphs" fill="#000">226</text>
<text x="633.85" y="63.80" font-size="16.67" textLength="6.02" lengthAdjust="spacingAndGlyphs" fill="#000">-</text>
<text x="645.16" y="63.80" font-size="16.67" textLength="66.55" lengthAdjust="spacingAndGlyphs" fill="#000">LWA126</text>
<text x="717.01" y="63.80" font-size="16.67" textLength="6.02" lengthAdjust="spacingAndGlyphs" fill="#000">-</text>
<text x="728.33" y="63.80" font-size="16.67" textLength="24.29" lengthAdjust="spacingAndGlyphs" fill="#000">Pol</text>
<text x="757.92" y="63.80" font-size="16.67" textLength="22.84" lengthAdjust="spacingAndGlyphs" fill="#000">XX</text>
</g>
<rect x="157.6" y="79.6" width="173.8" height="66.5" rx="2.8" ry="2.8" fill="#fff" fill-opacity="0.8" stroke="#cccccc" stroke-width="1.1"/>
<line x1="162.4" y1="90.7" x2="190.8" y2="90.7" stroke="#000" stroke-width="2.08"/>
<circle cx="176.6" cy="112.5" r="2.75" fill="#0000ff"/>
<rect x="163.2" y="128.2" width="27.6" height="9.4" fill="#808080" fill-opacity="0.4" stroke="#808080" stroke-opacity="0.4" stroke-width="1"/>
<g style="filter:grayscale(1)">
<text x="200.70" y="95.30" font-size="13.89" textLength="50.52" lengthAdjust="spacingAndGlyphs" fill="#000">Median</text>
<text x="255.64" y="95.30" font-size="13.89" textLength="67.31" lengthAdjust="spacingAndGlyphs" fill="#000">Spectrum</text>
<text x="200.70" y="116.20" font-size="13.89" textLength="55.36" lengthAdjust="spacingAndGlyphs" fill="#000">Flagged</text>
<text x="260.47" y="116.20" font-size="13.89" textLength="64.26" lengthAdjust="spacingAndGlyphs" fill="#000">Channels</text>
<text x="200.70" y="136.80" font-size="13.89" textLength="50.52" lengthAdjust="spacingAndGlyphs" fill="#000">Median</text>
<text x="255.64" y="136.80" font-size="13.89" textLength="29.97" lengthAdjust="spacingAndGlyphs" fill="#000">Abs.</text>
<text x="290.02" y="136.80" font-size="13.89" textLength="30.80" lengthAdjust="spacingAndGlyphs" fill="#000">Dev.</text>
</g>
</svg>
</body></html>
